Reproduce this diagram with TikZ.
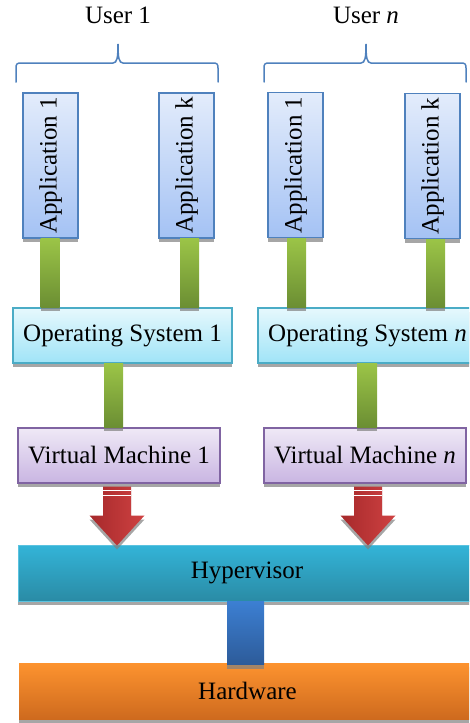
\documentclass[tikz,border=0pt]{standalone}
\usepackage{fontspec}
\setmainfont{Liberation Serif}
\usetikzlibrary{calc,shadows}
\definecolor{appTop}{HTML}{E3ECFB}
\definecolor{appBot}{HTML}{A4C2F4}
\definecolor{appEdge}{HTML}{4F81BD}
\definecolor{osTop}{HTML}{E6F8FD}
\definecolor{osBot}{HTML}{A0E4F7}
\definecolor{osEdge}{HTML}{4BACC6}
\definecolor{vmTop}{HTML}{EFE9F6}
\definecolor{vmBot}{HTML}{C9B5E2}
\definecolor{vmEdge}{HTML}{8064A2}
\definecolor{pipeTop}{HTML}{9BC447}
\definecolor{pipeBot}{HTML}{6B8E33}
\definecolor{arrDark}{HTML}{A6292B}
\definecolor{arrLight}{HTML}{CF4242}
\definecolor{hvTop}{HTML}{33B4D8}
\definecolor{hvBot}{HTML}{2A8BA5}
\definecolor{hvEdge}{HTML}{5BC3E0}
\definecolor{hwTop}{HTML}{FD932F}
\definecolor{hwBot}{HTML}{CE6A1E}
\definecolor{busTop}{HTML}{3C7FD2}
\definecolor{busBot}{HTML}{2D5B99}
\tikzset{
  lbl/.style={font=\fontsize{25}{30}\selectfont, inner sep=0pt},
  shad/.style={drop shadow={shadow xshift=0pt, shadow yshift=-4pt, fill=gray, opacity=0.7}},
  appbox/.style={shad, draw=appEdge, line width=1.5pt, top color=appTop, bottom color=appBot,
    minimum width=55pt, minimum height=145pt, inner sep=0pt},
  osbox/.style={lbl, shad, draw=osEdge, line width=1.5pt, top color=osTop, bottom color=osBot,
    minimum width=219pt, minimum height=55pt},
  vmbox/.style={lbl, shad, draw=vmEdge, line width=1.5pt, top color=vmTop, bottom color=vmBot,
    minimum width=202pt, minimum height=55pt},
  hvbox/.style={lbl, shad, draw=hvEdge, line width=1pt, top color=hvTop, bottom color=hvBot,
    minimum width=458pt, minimum height=56pt},
  hwbox/.style={lbl, shad, top color=hwTop, bottom color=hwBot,
    minimum width=457pt, minimum height=56pt},
  pipe/.style={shad, top color=pipeTop, bottom color=pipeBot},
  bus/.style={shad, top color=busTop, bottom color=busBot},
  arr/.style={shad, left color=arrDark, right color=arrLight},
  stripe/.style={draw=white, line width=1pt},
  brc/.style={draw=appEdge, line width=1.5pt, line cap=round},
}
% curly brace over one user's applications, from its lower left end
\newcommand\userbrace[1]{%
  \draw[brc] (#1) -- ++(0,14) .. controls +(0,4) and +(-4,0) .. ++(5,5) -- ++(92,0)
    .. controls +(4,0) and +(0,-14) .. ++(5,19) .. controls +(0,-14) and +(-4,0) .. ++(5,-19)
    -- ++(90,0) .. controls +(4,0) and +(0,4) .. ++(5,-5) -- ++(0,-14);}
\begin{document}
\begin{tikzpicture}[x=1pt,y=1pt]
  \useasboundingbox (0,0) rectangle (469,-723);
  \clip (0,0) rectangle (469,-723);

  % users
  \node[lbl] (u1) at (118,-15) {User 1};
  \node[lbl] (un) at (366,-15) {User \textit{n}};
  \coordinate (b1s) at (16,-82);
  \coordinate (bns) at (264,-82);
  \userbrace{b1s}
  \userbrace{bns}

  % applications
  \node[appbox] (a11) at (50.5,-165.5) {};
  \node[lbl,rotate=90] at (a11) {Application 1};
  \node[appbox] (a1k) at (186.5,-165.5) {};
  \node[lbl,rotate=90] at (a1k) {Application k};
  \node[appbox] (an1) at (295.5,-165) {};
  \node[lbl,rotate=90] at (an1) {Application 1};
  \node[appbox] (ank) at (432.5,-166) {};
  \node[lbl,rotate=90] at (ank) {Application k};

  % operating systems and virtual machines
  \node[osbox] (os1) at (122.5,-335.5) {Operating System 1};
  \node[osbox] (osn) at (367.5,-335.5) {Operating System \textit{n}};
  \node[vmbox] (vm1) at (119,-455.5) {Virtual Machine 1};
  \node[vmbox] (vmn) at (365,-455.5) {Virtual Machine \textit{n}};

  \shade[pipe] ($(a11.south)+(-10,0)$) rectangle ($(a11.south |- os1.north)+(9,0)$);
  \shade[pipe] ($(a1k.south)+(-6.5,0)$) rectangle ($(a1k.south |- os1.north)+(12.5,0)$);
  \shade[pipe] ($(an1.south)+(-8.5,0)$) rectangle ($(an1.south |- osn.north)+(10.5,0)$);
  \shade[pipe] ($(ank.south)+(-6.5,0)$) rectangle ($(ank.south |- osn.north)+(12.5,0)$);
  \shade[pipe] ($(os1.south)+(-18.5,0)$) rectangle ($(os1.south |- vm1.north)+(0.5,0)$);
  \shade[pipe] ($(osn.south)+(-10.5,0)$) rectangle ($(osn.south |- vmn.north)+(9.5,0)$);

  % hypervisor and hardware
  \node[hvbox] (hv) at (247,-573) {Hypervisor};
  \node[hwbox] (hw) at (247.5,-691) {Hardware};
  \shade[bus] ($(hv.south)+(-20,0)$) rectangle ($(hv.south |- hw.north)+(17,-2)$);

  % arrows vm -> hypervisor
  \coordinate (t1) at ($(vm1.south |- hv.north)+(-2,-1)$);
  \coordinate (tn) at ($(vmn.south |- hv.north)+(3,-1)$);
  \shade[arr] (t1) -- ++(27.5,30) -- ++(-13.5,0) -- ++(0,29) -- ++(-28,0) -- ++(0,-29) -- ++(-13.5,0) -- cycle;
  \shade[arr] (tn) -- ++(27.5,30) -- ++(-13.5,0) -- ++(0,29) -- ++(-28,0) -- ++(0,-29) -- ++(-13.5,0) -- cycle;
  \draw[stripe] ($(t1)+(-14,55)$) -- ++(28,0);
  \draw[stripe] ($(t1)+(-14,50)$) -- ++(28,0);
  \draw[stripe] ($(tn)+(-14,55)$) -- ++(28,0);
  \draw[stripe] ($(tn)+(-14,50)$) -- ++(28,0);
\end{tikzpicture}
\end{document}
